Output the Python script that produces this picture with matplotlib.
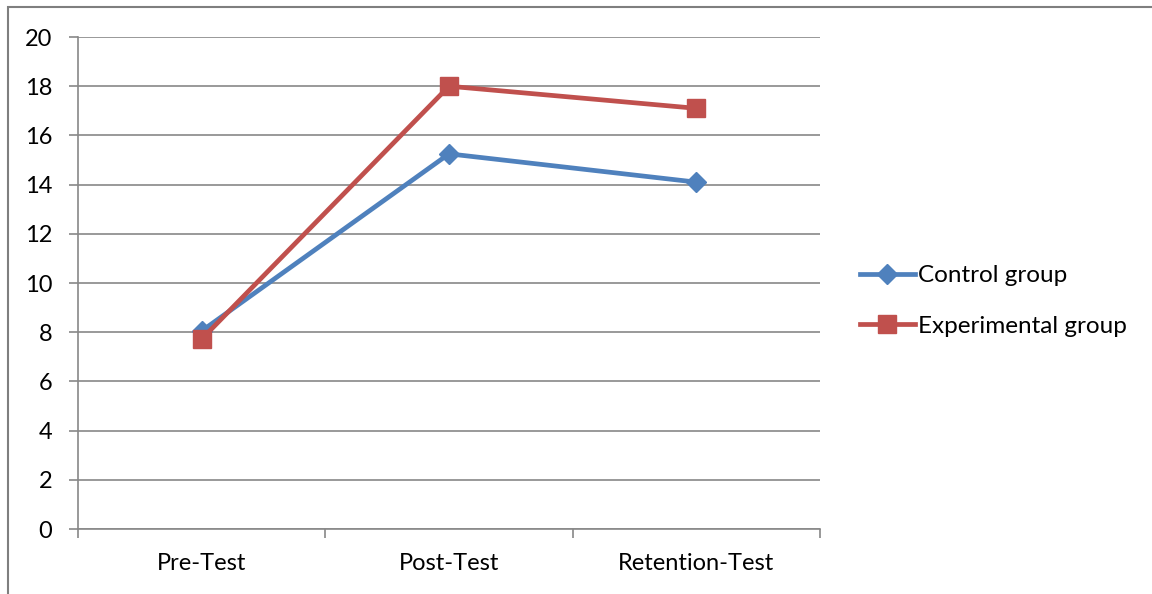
import matplotlib.pyplot as plt
from matplotlib.patches import Rectangle

# data
categories = ['Pre-Test', 'Post-Test', 'Retention-Test']
control = [8.05, 15.25, 14.1]
experimental = [7.72, 18.0, 17.1]
yticks = [0, 2, 4, 6, 8, 10, 12, 14, 16, 18, 20]

plt.rcParams['font.family'] = ['Lato', 'DejaVu Sans']
grid_col = '#888888'
fs = 17

fig = plt.figure(figsize=(11.52, 5.94), dpi=100)
ax = fig.add_axes([78/1152, 1 - 529/594, (820-78)/1152, (529-37)/594])

x = list(range(len(categories)))
ax.plot(x, control, color='#4F81BD', lw=3.4, marker='D', ms=10,
        label='Control group', zorder=3)
ax.plot(x, experimental, color='#C0504D', lw=3.4, marker='s', ms=13,
        label='Experimental group', zorder=4)

ax.set_xlim(-0.5, 2.5)
ax.set_ylim(0, 20)
ax.set_yticks(yticks)
ax.set_yticklabels([str(v) for v in yticks], fontsize=fs)
ax.yaxis.grid(True, color=grid_col, lw=1.2)
ax.set_axisbelow(True)

# category labels centered, ticks on boundaries
ax.set_xticks([-0.5, 0.5, 1.5, 2.5])
ax.set_xticklabels([])
ax.set_xticks(x, minor=True)
ax.set_xticklabels(categories, minor=True, fontsize=fs)
ax.tick_params(axis='x', which='minor', length=0, pad=17)
ax.tick_params(axis='x', which='major', length=6.5, color=grid_col, width=1.2)
ax.tick_params(axis='y', length=6.5, color=grid_col, width=1.2, pad=12)

for s in ['top', 'right']:
    ax.spines[s].set_visible(False)
for s in ['left', 'bottom']:
    ax.spines[s].set_color(grid_col)
    ax.spines[s].set_linewidth(1.2)

leg = ax.legend(loc='center left', bbox_to_anchor=(848/1152, 1 - 301/594),
                bbox_transform=fig.transFigure, frameon=False, fontsize=17.5,
                handlelength=2.25, handletextpad=0.15, labelspacing=1.2,
                borderpad=0)

# outer chart border (partly cut off)
fig.patches.append(Rectangle((8/1152, -0.1), 1.2, 1 - 7/594 + 0.1,
                             transform=fig.transFigure, fill=False,
                             edgecolor='#7f7f7f', lw=1.5))

fig.savefig('out.png', dpi=100)
